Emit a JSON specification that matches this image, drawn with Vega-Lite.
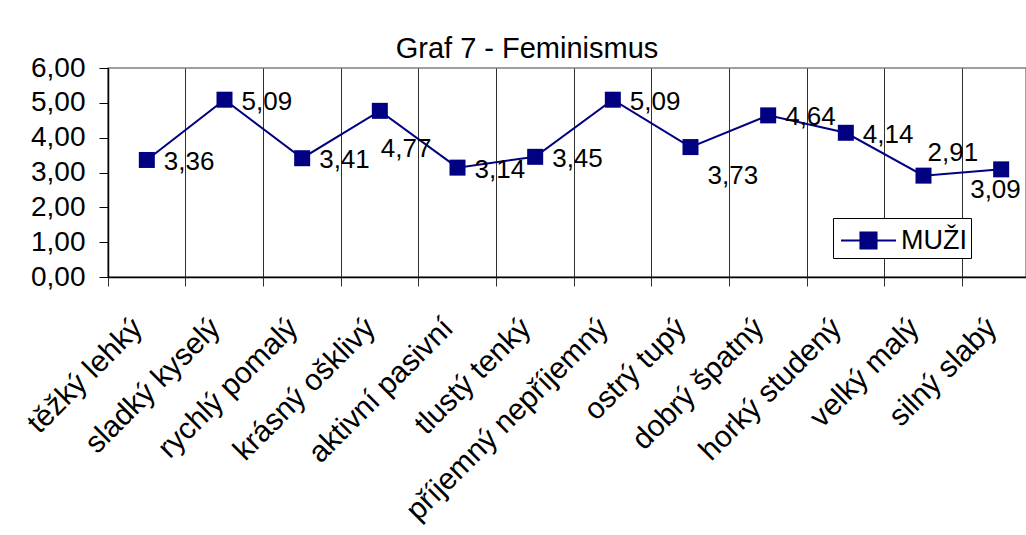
{
  "$schema": "https://vega.github.io/schema/vega-lite/v6.json",
  "width": 918,
  "height": 209,
  "autosize": {"type": "none"},
  "padding": {"left": 108, "top": 68, "right": 0, "bottom": 258},
  "background": "white",
  "config": {
    "font": "Liberation Sans",
    "locale": {"number": {"decimal": ",", "thousands": " ", "grouping": [3], "currency": ["", " Kč"]}},
    "view": {"stroke": "#808080", "strokeWidth": 1.5}
  },
  "title": {"text": "Graf 7 - Feminismus", "fontSize": 29, "fontWeight": "normal", "color": "black", "font": "Liberation Sans", "anchor": "middle", "dx": -40, "offset": -33, "baseline": "alphabetic"},
  "data": {"values": [
    {"pair": "těžký lehký", "value": 3.36, "series": "MUŽI"},
    {"pair": "sladký kyselý", "value": 5.09, "series": "MUŽI"},
    {"pair": "rychlý pomalý", "value": 3.41, "series": "MUŽI"},
    {"pair": "krásný ošklivý", "value": 4.77, "series": "MUŽI"},
    {"pair": "aktivní pasivní", "value": 3.14, "series": "MUŽI"},
    {"pair": "tlustý tenký", "value": 3.45, "series": "MUŽI"},
    {"pair": "příjemný nepříjemný", "value": 5.09, "series": "MUŽI"},
    {"pair": "ostrý tupý", "value": 3.73, "series": "MUŽI"},
    {"pair": "dobrý špatný", "value": 4.64, "series": "MUŽI"},
    {"pair": "horký studený", "value": 4.14, "series": "MUŽI"},
    {"pair": "velký malý", "value": 2.91, "series": "MUŽI"},
    {"pair": "silný slabý", "value": 3.09, "series": "MUŽI"}
  ]},
  "encoding": {
    "x": {
      "field": "pair", "type": "nominal", "sort": null,
      "scale": {"type": "band", "range": [0, 932], "paddingInner": 0, "paddingOuter": 0},
      "axis": {
        "title": null, "domain": false, "grid": true, "gridColor": "#303030", "gridWidth": 1,
        "ticks": true, "tickColor": "#303030", "tickSize": 9, "bandPosition": 0,
        "labelAngle": -45, "labelAlign": "right", "labelBaseline": "middle",
        "labelFontSize": 30, "labelColor": "black", "labelPadding": 37, "labelOffset": -9,
        "labelOverlap": false, "labelLimit": 500, "labelFont": "Liberation Sans"
      }
    },
    "y": {
      "field": "value", "type": "quantitative",
      "scale": {"domain": [0, 6], "nice": false},
      "axis": {
        "title": null, "values": [0, 1, 2, 3, 4, 5, 6], "format": ".2f",
        "domain": true, "domainColor": "black", "domainWidth": 1.5,
        "ticks": true, "tickColor": "black", "tickSize": 9,
        "labelFontSize": 28, "labelColor": "black", "labelPadding": 14, "labelFont": "Liberation Sans",
        "grid": true, "gridWidth": 1.5,
        "gridColor": {"condition": {"test": "datum.value === 0", "value": "black"}, "value": "transparent"}
      }
    }
  },
  "layer": [
    {"mark": {"type": "line", "color": "#000080", "strokeWidth": 2}},
    {
      "mark": {"type": "point", "shape": "square", "filled": true, "size": 256, "opacity": 1},
      "encoding": {
        "color": {
          "field": "series", "type": "nominal",
          "scale": {"domain": ["MUŽI"], "range": ["#000080"]},
          "legend": {
            "title": null, "orient": "none", "legendX": 725, "legendY": 150,
            "strokeColor": "black", "fillColor": "white", "padding": 4,
            "labelFontSize": 27, "labelColor": "black", "labelOffset": 14, "labelFont": "Liberation Sans",
            "symbolType": "M-1.57,0H1.57M-0.46,-0.46H0.46V0.46H-0.46Z", "symbolSize": 1225, "symbolOffset": 13,
            "symbolStrokeWidth": 2, "symbolFillColor": "#000080", "symbolStrokeColor": "#000080", "symbolOpacity": 1,
            "encode": {"symbols": {"update": {"fill": {"value": "#000080"}, "stroke": {"value": "#000080"}, "strokeWidth": {"value": 2}}}}
          }
        }
      }
    },
    {
      "transform": [{"filter": "indexof(['krásný ošklivý','ostrý tupý','velký malý','silný slabý'], datum.pair) < 0"}],
      "mark": {"type": "text", "align": "left", "baseline": "middle", "dx": 17, "dy": 2, "fontSize": 26, "color": "black"},
      "encoding": {"text": {"field": "value", "type": "quantitative", "format": ".2f"}}
    },
    {
      "transform": [{"filter": {"field": "pair", "equal": "krásný ošklivý"}}],
      "mark": {"type": "text", "align": "left", "baseline": "middle", "dx": 1, "dy": 38, "fontSize": 26, "color": "black"},
      "encoding": {"text": {"field": "value", "type": "quantitative", "format": ".2f"}}
    },
    {
      "transform": [{"filter": {"field": "pair", "equal": "ostrý tupý"}}],
      "mark": {"type": "text", "align": "left", "baseline": "middle", "dx": 17, "dy": 29, "fontSize": 26, "color": "black"},
      "encoding": {"text": {"field": "value", "type": "quantitative", "format": ".2f"}}
    },
    {
      "transform": [{"filter": {"field": "pair", "equal": "velký malý"}}],
      "mark": {"type": "text", "align": "left", "baseline": "middle", "dx": 4, "dy": -23, "fontSize": 26, "color": "black"},
      "encoding": {"text": {"field": "value", "type": "quantitative", "format": ".2f"}}
    },
    {
      "transform": [{"filter": {"field": "pair", "equal": "silný slabý"}}],
      "mark": {"type": "text", "align": "left", "baseline": "middle", "dx": -31, "dy": 21, "fontSize": 26, "color": "black"},
      "encoding": {"text": {"field": "value", "type": "quantitative", "format": ".2f"}}
    }
  ]
}
